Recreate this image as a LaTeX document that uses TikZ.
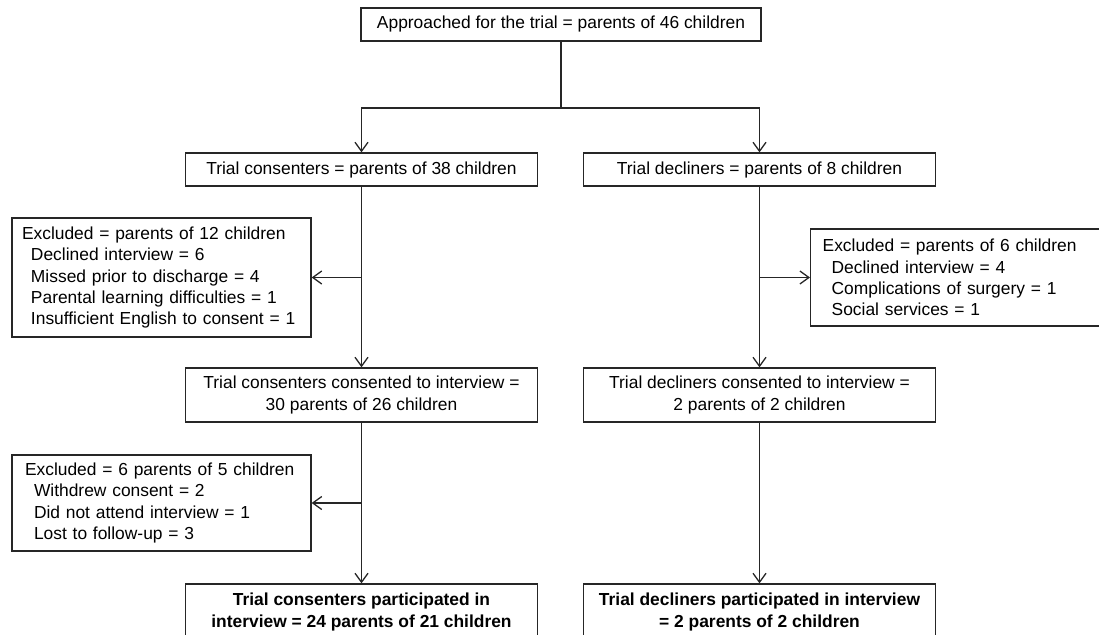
\documentclass[tikz,border=0pt]{standalone}
\usepackage{fontspec}
\setmainfont{Liberation Sans}
\usepackage{tikz}
\usetikzlibrary{arrows.meta,positioning,calc}

\newcommand{\subline}{\hspace*{9pt}}

\begin{document}
\begin{tikzpicture}[x=1pt, y=-1pt,
        block/.style={rectangle, draw=black!85, line width=1.3pt, inner sep=0pt, minimum height=33pt, minimum width=352pt, align=center, font=\fontsize{17.4}{21.3}\selectfont},
        excl/.style={rectangle, draw=black!85, line width=1.3pt, inner xsep=13pt, inner ysep=0pt, align=left, font=\fontsize{17.4}{21.3}\selectfont},
        arr/.style={-{Straight Barb[length=9pt,width=13pt]}, line width=1.3pt, draw=black!85}
    ]
        \useasboundingbox (0,0) rectangle (1099,634);

        % Approached
        \node[block, minimum width=400pt] (appr) at (561,24.5) {Approached for the trial = parents of 46 children};
        \coordinate (split) at (561,108);

        % Trial consenters / decliners
        \node[block] (cons) at (361.5,169.5) {Trial consenters = parents of 38 children};
        \node[block] (decl) at (759.5,169.5) {Trial decliners = parents of 8 children};

        % First exclusions
        \node[excl, inner xsep=10pt, text width=279pt, minimum height=119pt] (excla) at (161.5,277.5) {Excluded = parents of 12 children\\
            \subline Declined interview = 6\\
            \subline Missed prior to discharge = 4\\
            \subline Parental learning difficulties = 1\\
            \subline Insufficient English to consent = 1};
        \node[excl, inner xsep=12pt, text width=280pt, minimum height=97pt, anchor=west] (exclb) at (810,277.5) {Excluded = parents of 6 children\\
            \subline Declined interview = 4\\
            \subline Complications of surgery = 1\\
            \subline Social services = 1};

        % Consented to interview
        \node[block, minimum height=54pt] (consint) at (361.5,395) {Trial consenters consented to interview =\\30 parents of 26 children};
        \node[block, minimum height=54pt] (declint) at (759.5,395) {Trial decliners consented to interview =\\2 parents of 2 children};

        % Second exclusions
        \node[excl, text width=273pt, minimum height=96pt] (exclc) at (161.5,503) {Excluded = 6 parents of 5 children\\
            \subline Withdrew consent = 2\\
            \subline Did not attend interview = 1\\
            \subline Lost to follow-up = 3};

        % Participated
        \node[block, minimum height=56pt, font=\fontsize{17.4}{21.3}\selectfont\bfseries] (consfin) at (361.5,612) {Trial consenters participated in\\interview = 24 parents of 21 children};
        \node[block, minimum height=56pt, font=\fontsize{17.4}{21.3}\selectfont\bfseries] (declfin) at (759.5,612) {Trial decliners participated in interview\\= 2 parents of 2 children};

        % Arrows
        \draw[line width=1.3pt, draw=black!85] (appr) -- (split);
        \draw[arr] (split) -| (cons);
        \draw[arr] (split) -| (decl);
        \draw[arr] (cons) -- (consint);
        \draw[arr] (decl) -- (declint);
        \draw[arr] (consint) -- (consfin);
        \draw[arr] (declint) -- (declfin);

        % Exclusion branches
        \draw[arr] (cons.south |- excla.east) -- (excla.east);
        \draw[arr] (decl.south |- exclb.west) -- (exclb.west);
        \draw[arr] (consint.south |- exclc.east) -- (exclc.east);
    \end{tikzpicture}
\end{document}
